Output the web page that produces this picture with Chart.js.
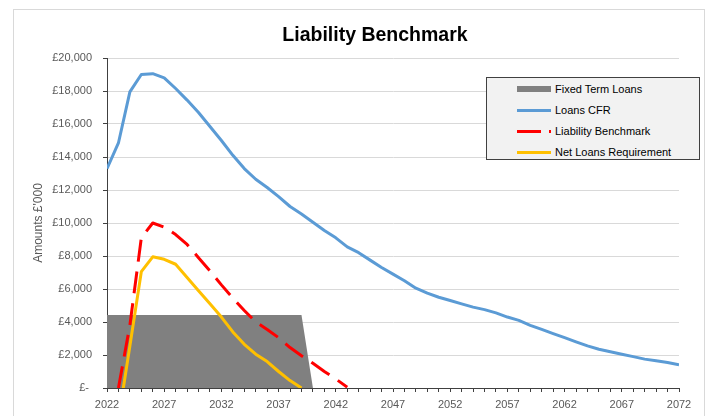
<!DOCTYPE html>
<html>
<head>
<meta charset="utf-8">
<script src="https://cdn.jsdelivr.net/npm/chart.js@4/dist/chart.umd.min.js"></script>
<style>
  body { margin: 0; background: #fff; }
  #wrap { position: relative; width: 710px; height: 416px; overflow: hidden; }
  #title {
    position: absolute; left: 0; width: 750px; top: 22px; text-align: center;
    font-family: "Liberation Sans", Arial, sans-serif; font-size: 19.5px; font-weight: bold; color: #000;
    line-height: 24px;
  }
  #legend {
    position: absolute; left: 486px; top: 77px; width: 212px; height: 81px;
    background: #f2f2f2; border: 1px solid #404040;
    font-family: "Liberation Sans", Arial, sans-serif; font-size: 11px; color: #000;
  }
  .row { position: absolute; left: 0; height: 14px; line-height: 14px; }
  .sw { position: absolute; left: 30px; top: 50%; }
  .txt { position: absolute; left: 68px; top: 0; white-space: nowrap; }
</style>
</head>
<body>
<div id="wrap">
  <canvas id="chart" width="710" height="416"></canvas>
  <div id="title">Liability Benchmark</div>
  <div id="legend"></div>
</div>
<script>
const years = ['2022','2023','2024','2025','2026','2027','2028','2029','2030','2031',
  '2032','2033','2034','2035','2036','2037','2038','2039','2040','2041',
  '2042','2043','2044','2045','2046','2047','2048','2049','2050','2051',
  '2052','2053','2054','2055','2056','2057','2058','2059','2060','2061',
  '2062','2063','2064','2065','2066','2067','2068','2069','2070','2071','2072'];

const fixedTermLoans = [4420,4420,4420,4420,4420,4420,4420,4420,4420,4420,
  4420,4420,4420,4420,4420,4420,4420,4420,0];

const loansCFR = [13300,14850,17950,19000,19050,18800,18150,17450,16700,15850,
  15000,14100,13300,12650,12150,11600,11000,10550,10050,9550,
  9100,8550,8200,7750,7300,6900,6500,6050,5750,5500,
  5300,5100,4900,4750,4550,4300,4100,3800,3550,3300,
  3050,2800,2550,2350,2200,2050,1900,1750,1650,1550,1400];

const liabilityBenchmark = [null,0,3800,9100,10000,9750,9300,8700,7900,7100,
  6250,5450,4700,4000,3550,3050,2450,1950,1500,1000,
  550,50];

const netLoansRequirement = [null,-1900,2550,7050,7950,7800,7500,6700,5900,5100,
  4300,3400,2650,2050,1600,1000,450,0];

const yTicks = [0,2000,4000,6000,8000,10000,12000,14000,16000,18000,20000];

const axisColor = '#404040';
const textColor = '#595959';
const font = { family: '"Liberation Sans", Arial, sans-serif', size: 11 };

const frame = {
  id: 'frame',
  beforeDraw(c) {
    const ctx = c.ctx;
    ctx.save();
    ctx.strokeStyle = '#d9d9d9';
    ctx.lineWidth = 1;
    ctx.strokeRect(13.5, 9.5, 691, 430);
    ctx.restore();
  }
};

const chart = new Chart(document.getElementById('chart'), {
  type: 'line',
  data: {
    labels: years,
    datasets: [
      {
        label: 'Fixed Term Loans',
        data: fixedTermLoans,
        fill: 'origin',
        backgroundColor: '#808080',
        borderColor: '#808080',
        borderWidth: 0,
        pointRadius: 0,
        order: 10
      },
      {
        label: 'Loans CFR',
        data: loansCFR,
        borderColor: '#5b9bd5',
        borderWidth: 3,
        pointRadius: 0,
        fill: false,
        order: 3
      },
      {
        label: 'Liability Benchmark',
        data: liabilityBenchmark,
        borderColor: '#ff0000',
        borderWidth: 3,
        borderDash: [22, 10],
        pointRadius: 0,
        fill: false,
        order: 1
      },
      {
        label: 'Net Loans Requirement',
        data: netLoansRequirement,
        borderColor: '#ffc000',
        borderWidth: 3,
        pointRadius: 0,
        fill: false,
        order: 2
      }
    ]
  },
  options: {
    responsive: false,
    devicePixelRatio: 1,
    animation: false,
    clip: 0,
    layout: { padding: { left: 0, right: 31, top: 58, bottom: 0 } },
    elements: { line: { tension: 0, borderJoinStyle: 'round', borderCapStyle: 'butt' } },
    plugins: {
      legend: { display: false },
      tooltip: { enabled: false },
      title: { display: false }
    },
    scales: {
      x: {
        offset: false,
        grid: { display: true, drawOnChartArea: false, drawTicks: true, tickLength: 4, tickColor: axisColor },
        border: { display: true, color: axisColor, width: 1 },
        ticks: {
          autoSkip: false, maxRotation: 0, minRotation: 0, padding: 6,
          color: textColor, font: font,
          callback: (v, i) => (i % 5 === 0 ? years[i] : '')
        },
        afterFit: s => { s.height = 28; }
      },
      y: {
        min: 0,
        max: 20000,
        afterBuildTicks: s => { s.ticks = yTicks.map(v => ({ value: v })); },
        grid: { color: '#d9d9d9', lineWidth: 1, drawTicks: true, tickLength: 4, tickColor: axisColor },
        border: { display: true, color: axisColor, width: 1 },
        ticks: {
          padding: 11, color: textColor, font: font,
          callback: v => (v === 0 ? '£- ' : '£' + v.toLocaleString('en-GB'))
        },
        title: {
          display: true, text: "Amounts £'000", color: textColor,
          font: { family: '"Liberation Sans", Arial, sans-serif', size: 12 },
          padding: { top: 31, bottom: 0 }
        },
        afterFit: s => { s.width = 107; }
      }
    }
  },
  plugins: [frame]
});

// legend built from the chart's datasets, drawn in a box like the original
const legend = document.getElementById('legend');
chart.data.datasets.forEach((ds, r) => {
  const row = document.createElement('div');
  row.className = 'row';
  row.style.top = (4 + r * 21) + 'px';
  row.style.width = '100%';
  const sw = document.createElement('div');
  sw.className = 'sw';
  if (ds.fill === 'origin') {
    sw.style.cssText += 'width:34px;height:6px;margin-top:-3px;background:' + ds.backgroundColor;
  } else if (ds.borderDash) {
    sw.style.cssText += 'width:34px;height:3px;margin-top:-1.5px;background:linear-gradient(to right,' +
      ds.borderColor + ' 0 24px, transparent 24px 32px,' + ds.borderColor + ' 32px 34px, transparent 34px)';
  } else {
    sw.style.cssText += 'width:34px;height:3px;margin-top:-1.5px;background:' + ds.borderColor;
  }
  const t = document.createElement('div');
  t.className = 'txt';
  t.textContent = ds.label;
  row.appendChild(sw);
  row.appendChild(t);
  legend.appendChild(row);
});
</script>
</body>
</html>
